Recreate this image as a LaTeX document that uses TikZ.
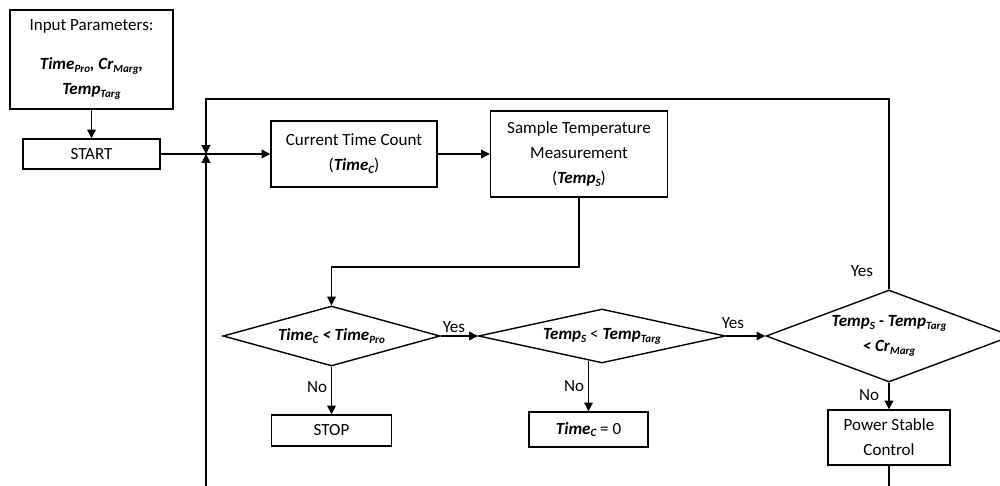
\documentclass[tikz,border=0pt]{standalone}
\usepackage{fontspec}
\setmainfont{Carlito}
\usetikzlibrary{shapes.geometric,arrows.meta,calc}
\newcommand\bv[2]{\textbf{\textit{#1}}\raisebox{-0.35ex}{\fontsize{6.3}{7}\selectfont\bfseries\itshape #2}}
\newcommand\fs{\fontsize{9.7}{14.2}\selectfont}
\begin{document}
\begin{tikzpicture}[x=0.02cm,y=-0.02cm,
  box/.style={draw, line width=0.8pt, inner sep=0pt, align=center, font=\fs},
  dia/.style={draw, diamond, line width=0.8pt, inner sep=0pt, align=center, font=\fs},
  arr/.style={line width=0.6pt, -{Triangle[length=5pt,width=5pt]}},
  ln/.style={line width=0.6pt},
  lbl/.style={font=\fs, inner sep=0pt}]
\useasboundingbox (0,0) rectangle (1000,486);
\clip (0,0) rectangle (1000,486);

\node[box, minimum width=3.26cm, minimum height=1.98cm] (inp) at (91.5,59.5)
  {Input Parameters:\\[8pt] \bv{Time}{Pro}\textbf{\textit{,}} \bv{Cr}{Marg}\textbf{\textit{,}}\\ \bv{Temp}{Targ}};
\node[box, minimum width=2.74cm, minimum height=0.6cm] (start) at (91.5,154) {START};
\node[box, minimum width=3.32cm, minimum height=1.32cm] (ctc) at (354,154) {Current Time Count\\(\bv{Time}{C})};
\node[box, minimum width=3.54cm, minimum height=1.72cm] (stm) at (579,154) {Sample Temperature\\Measurement\\(\bv{Temp}{S})};
\node[dia, shape aspect=3.6, minimum width=4.34cm, minimum height=1.2cm] (d1) at (331.5,336) {\bv{Time}{C} \textbf{\textit{<}} \bv{Time}{Pro}};
\node[dia, shape aspect=4.57, minimum width=4.94cm, minimum height=1.08cm] (d2) at (602,336) {\bv{Temp}{S} < \bv{Temp}{Targ}};
\node[dia, shape aspect=2.67, minimum width=4.92cm, minimum height=1.84cm] (d3) at (889,336) {\bv{Temp}{S} \textbf{\textit{-}} \bv{Temp}{Targ}\\ \textbf{\textit{<}} \bv{Cr}{Marg}};
\node[box, minimum width=2.4cm, minimum height=0.62cm] (stop) at (331.5,430.5) {STOP};
\node[box, minimum width=2.38cm, minimum height=0.7cm] (t0) at (588.5,429.5) {\bv{Time}{C} = 0};
\node[box, minimum width=2.44cm, minimum height=1.1cm] (psc) at (889,437.5) {Power Stable\\Control};

\coordinate (j) at (206,154);
\coordinate (tl) at (206,99);
\coordinate (bl) at (206,490);
\coordinate (k) at (331.5,267);
\coordinate (pb) at (889,490);

\draw[arr] (inp) -- (start);
\draw[ln] (start) -- (j);
\draw[arr] (j) -- (ctc);
\draw[arr] (d3.north) |- (tl) -- (j);
\draw[arr] (bl) -- (j);
\draw[arr] (ctc) -- (stm);
\draw[arr] (stm.south) |- (k) -- (d1.north);
\draw[arr] (d1.east) -- (d2.west);
\draw[arr] (d2.east) -- (d3.west);
\draw[arr] (d1.south) -- (stop.north);
\draw[arr] ($(t0.north |- d2.south)+(0,-3)$) -- (t0.north);
\draw[arr] (d3.south) -- (psc.north);
\draw[ln] (psc.south) -- (pb);

\node[lbl] (y1) at (454,327) {Yes};
\node[lbl] (y2) at (733,323) {Yes};
\node[lbl] (y3) at (862,271) {Yes};
\node[lbl] (n1) at (317,387) {No};
\node[lbl] (n2) at (574,386) {No};
\node[lbl] (n3) at (869,395) {No};
\end{tikzpicture}
\end{document}
